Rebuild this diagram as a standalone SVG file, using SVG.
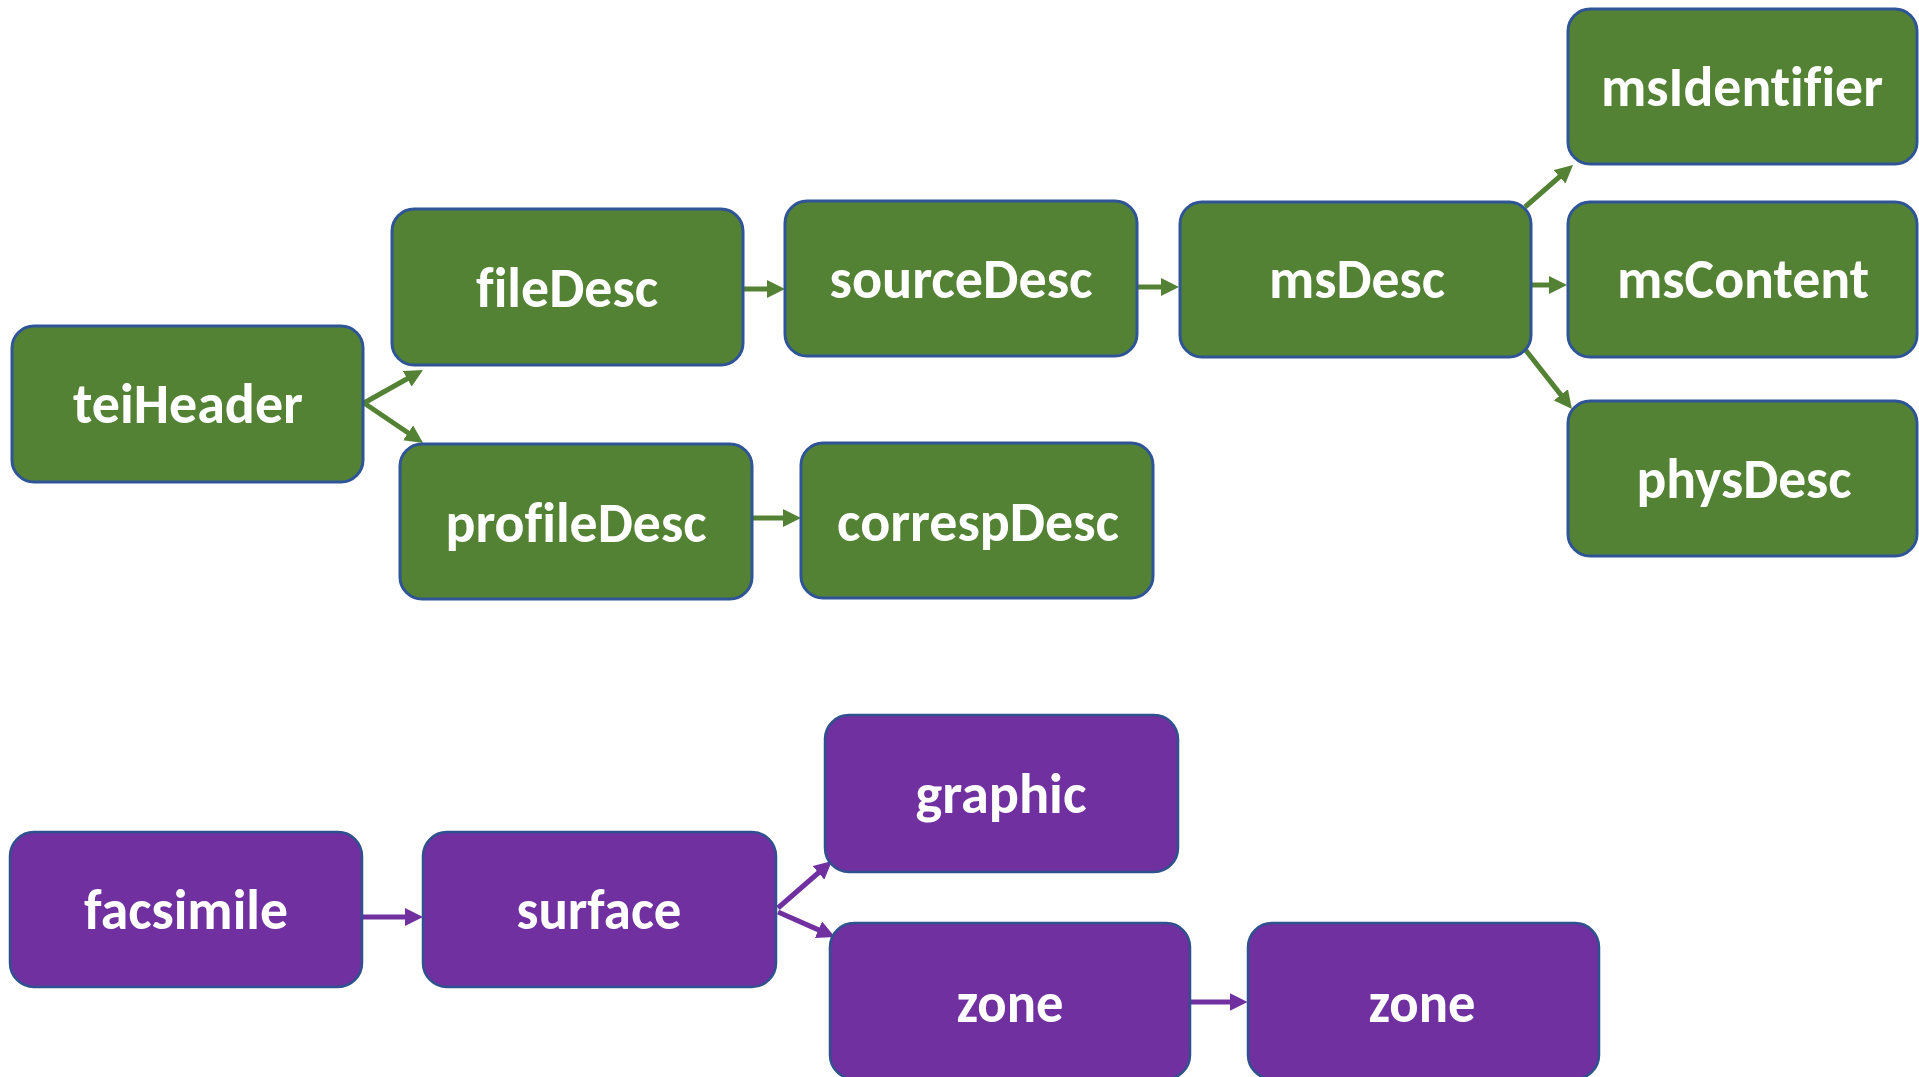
<svg xmlns="http://www.w3.org/2000/svg" width="1919" height="1077" viewBox="0 0 1919 1077">
<style>
.g rect{fill:#548235;stroke:#2F5597;stroke-width:3}
.p rect{fill:#7030A0;stroke:#2F528F;stroke-width:2.5}
text{font-family:Carlito,Lato,"Liberation Sans",sans-serif;font-weight:bold;font-size:56px;fill:#fff;text-anchor:middle;font-variant-ligatures:none}
.cg{stroke:#548235;stroke-width:5;fill:none}
.cp{stroke:#7030A0;stroke-width:5;fill:none}
</style>
<defs>
<marker id="ag" markerUnits="userSpaceOnUse" viewBox="0 0 18 18" markerWidth="18" markerHeight="18" refX="2" refY="9" orient="auto"><path d="M0,0 L18,9 L0,18 z" fill="#548235"/></marker>
<marker id="ap" markerUnits="userSpaceOnUse" viewBox="0 0 18 18" markerWidth="18" markerHeight="18" refX="2" refY="9" orient="auto"><path d="M0,0 L18,9 L0,18 z" fill="#7030A0"/></marker>
</defs>
<rect width="1919" height="1077" fill="#fff"/>
<g id="connectors">
<line class="cg" x1="364" y1="403" x2="409" y2="377.8" marker-end="url(#ag)"/>
<line class="cg" x1="364" y1="403" x2="409.8" y2="434" marker-end="url(#ag)"/>
<line class="cg" x1="743" y1="289" x2="769" y2="289" marker-end="url(#ag)"/>
<line class="cg" x1="752" y1="518" x2="785" y2="518" marker-end="url(#ag)"/>
<line class="cg" x1="1137" y1="287" x2="1163" y2="287" marker-end="url(#ag)"/>
<line class="cg" x1="1525" y1="207" x2="1561" y2="175.5" marker-end="url(#ag)"/>
<line class="cg" x1="1531" y1="285" x2="1551" y2="285" marker-end="url(#ag)"/>
<line class="cg" x1="1524" y1="348" x2="1562.1" y2="396.4" marker-end="url(#ag)"/>
<line class="cp" x1="362" y1="917" x2="407" y2="917" marker-end="url(#ap)"/>
<line class="cp" x1="778" y1="908" x2="819.9" y2="871.5" marker-end="url(#ap)"/>
<line class="cp" x1="778" y1="912" x2="820.3" y2="930.6" marker-end="url(#ap)"/>
<line class="cp" x1="1190" y1="1002" x2="1231.5" y2="1002" marker-end="url(#ap)"/>
</g>
<g id="teiHeader" class="g"><rect x="12" y="326" width="351" height="156" rx="22"/><text x="188" y="423" textLength="230" lengthAdjust="spacingAndGlyphs">teiHeader</text></g>
<g id="fileDesc" class="g"><rect x="392" y="209" width="351" height="156" rx="22"/><text x="567" y="307" textLength="182" lengthAdjust="spacingAndGlyphs">fileDesc</text></g>
<g id="profileDesc" class="g"><rect x="400" y="444" width="352" height="155" rx="22"/><text x="576" y="542" textLength="261" lengthAdjust="spacingAndGlyphs">profileDesc</text></g>
<g id="sourceDesc" class="g"><rect x="785" y="201" width="352" height="155" rx="22"/><text x="961" y="298" textLength="263" lengthAdjust="spacingAndGlyphs">sourceDesc</text></g>
<g id="correspDesc" class="g"><rect x="801" y="443" width="352" height="155" rx="22"/><text x="978" y="541" textLength="282" lengthAdjust="spacingAndGlyphs">correspDesc</text></g>
<g id="msDesc" class="g"><rect x="1180" y="202" width="351" height="155" rx="22"/><text x="1357" y="298" textLength="176" lengthAdjust="spacingAndGlyphs">msDesc</text></g>
<g id="msIdentifier" class="g"><rect x="1568" y="9" width="349" height="155" rx="22"/><text x="1742" y="106" textLength="282" lengthAdjust="spacingAndGlyphs">msIdentifier</text></g>
<g id="msContent" class="g"><rect x="1568" y="202" width="349" height="155" rx="22"/><text x="1743" y="298" textLength="252" lengthAdjust="spacingAndGlyphs">msContent</text></g>
<g id="physDesc" class="g"><rect x="1568" y="401" width="349" height="155" rx="22"/><text x="1744" y="498" textLength="215" lengthAdjust="spacingAndGlyphs">physDesc</text></g>
<g id="facsimile" class="p"><rect x="10" y="832" width="352" height="155" rx="24"/><text x="186" y="929" textLength="204" lengthAdjust="spacingAndGlyphs">facsimile</text></g>
<g id="surface" class="p"><rect x="423" y="832" width="353" height="155" rx="24"/><text x="599" y="929" textLength="165" lengthAdjust="spacingAndGlyphs">surface</text></g>
<g id="graphic" class="p"><rect x="825" y="715" width="353" height="157" rx="24"/><text x="1001" y="813" textLength="171" lengthAdjust="spacingAndGlyphs">graphic</text></g>
<g id="zone1" class="p"><rect x="830" y="923" width="360" height="156" rx="24"/><text x="1010" y="1022" textLength="107" lengthAdjust="spacingAndGlyphs">zone</text></g>
<g id="zone2" class="p"><rect x="1248" y="923" width="351" height="156" rx="24"/><text x="1422" y="1022" textLength="107" lengthAdjust="spacingAndGlyphs">zone</text></g>
</svg>
